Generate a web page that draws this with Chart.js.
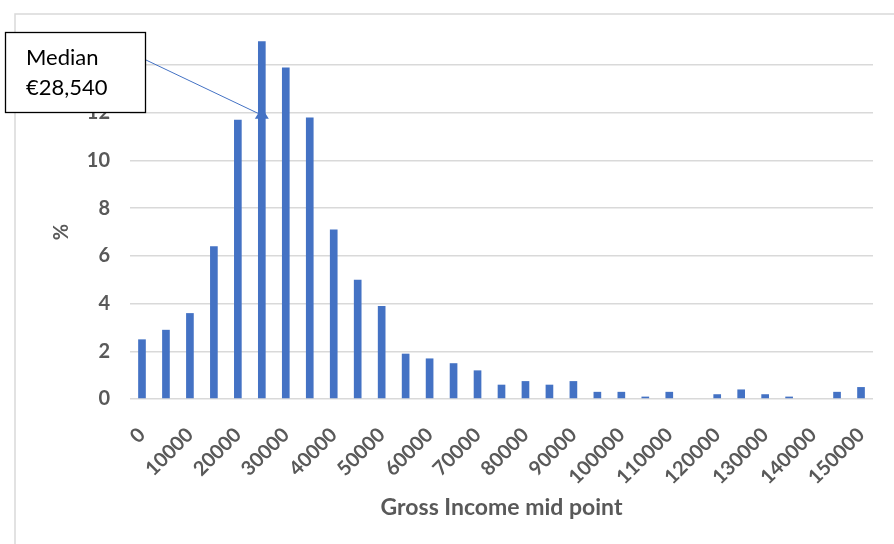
<!DOCTYPE html>
<html>
<head>
<meta charset="utf-8">
<script src="https://cdn.jsdelivr.net/npm/chart.js@4.4.1/dist/chart.umd.min.js"></script>
<style>
  body { margin: 0; background: #fff; }
  #wrap { width: 894px; height: 544px; }
</style>
</head>
<body>
<div id="wrap"><canvas id="incomeChart" width="894" height="544"></canvas></div>
<script>
// income bands (mid points) and share of earners in %
var incomeMid = [0, 5000, 10000, 15000, 20000, 25000, 30000, 35000, 40000, 45000,
  50000, 55000, 60000, 65000, 70000, 75000, 80000, 85000, 90000, 95000,
  100000, 105000, 110000, 115000, 120000, 125000, 130000, 135000, 140000, 145000, 150000];
var sharePct = [2.5, 2.9, 3.6, 6.4, 11.7, 15.0, 13.9, 11.8, 7.1, 5.0,
  3.9, 1.9, 1.7, 1.5, 1.2, 0.6, 0.75, 0.6, 0.75, 0.3,
  0.3, 0.1, 0.3, 0, 0.2, 0.4, 0.2, 0.1, 0, 0.3, 0.5];
var yTicks = [0, 2, 4, 6, 8, 10, 12, 14];
var medianLines = ["Median", "€28,540"];
var medianBand = 25000; // band the arrow points at
var medianArrowLevel = 12;

var txtGrey = "#595959";
var gridGrey = "#d9d9d9";
var barBlue = "#4472C4";

// frame + median call-out
var calloutPlugin = {
  id: 'callout',
  beforeDraw: function(chart) {
    var ctx = chart.ctx;
    ctx.save();
    ctx.strokeStyle = gridGrey;
    ctx.lineWidth = 1.5;
    ctx.beginPath();
    ctx.moveTo(15, 600);
    ctx.lineTo(15, 14);
    ctx.lineTo(900, 14);
    ctx.stroke();
    ctx.restore();
  },
  afterDraw: function(chart) {
    var ctx = chart.ctx;
    var xs = chart.scales.x, ys = chart.scales.y;
    var tipX = xs.getPixelForValue(incomeMid.indexOf(medianBand));
    var tipY = ys.getPixelForValue(medianArrowLevel);
    ctx.save();
    // arrow line
    ctx.strokeStyle = barBlue;
    ctx.lineWidth = 1;
    ctx.beginPath();
    ctx.moveTo(146, 60);
    ctx.lineTo(tipX - 3, tipY + 1);
    ctx.stroke();
    ctx.fillStyle = barBlue;
    ctx.beginPath();
    ctx.moveTo(tipX, tipY - 5);
    ctx.lineTo(tipX + 7, tipY + 6);
    ctx.lineTo(tipX - 7, tipY + 6);
    ctx.closePath();
    ctx.fill();
    // box
    ctx.fillStyle = "#fff";
    ctx.fillRect(5, 32, 141, 81);
    ctx.strokeStyle = "#000";
    ctx.lineWidth = 1.3;
    ctx.strokeRect(5.5, 32.5, 140, 80);
    ctx.fillStyle = "#000";
    ctx.font = "22px Lato";
    ctx.textBaseline = "alphabetic";
    ctx.fillText(medianLines[0], 26, 65);
    ctx.fillText(medianLines[1], 26, 95);
    ctx.restore();
  }
};

new Chart(document.getElementById("incomeChart"), {
  type: 'bar',
  data: {
    labels: incomeMid,
    datasets: [{
      data: sharePct,
      backgroundColor: barBlue,
      borderWidth: 0,
      categoryPercentage: 1,
      barPercentage: 0.32,
      clip: false
    }]
  },
  options: {
    responsive: false,
    animation: false,
    layout: { padding: { left: 0, right: 21, top: 65, bottom: 0 } },
    plugins: { legend: { display: false }, tooltip: { enabled: false } },
    scales: {
      x: {
        grid: { display: false, drawTicks: false },
        border: { display: false },
        ticks: {
          autoSkip: false,
          minRotation: 45,
          maxRotation: 45,
          padding: 24,
          color: txtGrey,
          font: { family: "Lato", size: 20, weight: "bold" },
          callback: function(val, i) { return i % 2 === 0 ? String(incomeMid[i]) : ''; }
        },
        title: {
          display: true,
          text: "Gross Income mid point",
          color: txtGrey,
          font: { family: "Lato", size: 23, weight: "bold" },
          padding: { top: 0, bottom: 23 }
        },
        afterFit: function(s) {
          s.height = 145;
          s.paddingLeft = 0;
          s.paddingRight = 0;
        }
      },
      y: {
        min: 0,
        max: 14,
        afterBuildTicks: function(s) { s.ticks = yTicks.map(function(v) { return { value: v }; }); },
        grid: { color: gridGrey, lineWidth: 1.5, drawTicks: false },
        border: { display: false },
        ticks: {
          padding: 20,
          color: txtGrey,
          font: { family: "Lato", size: 20, weight: "bold" }
        },
        title: {
          display: true,
          text: "%",
          color: txtGrey,
          font: { family: "Lato", size: 20, weight: "bold" },
          padding: { top: 50, bottom: 0 }
        },
        afterFit: function(s) { s.width = 130; }
      }
    }
  },
  plugins: [calloutPlugin]
});
</script>
</body>
</html>
